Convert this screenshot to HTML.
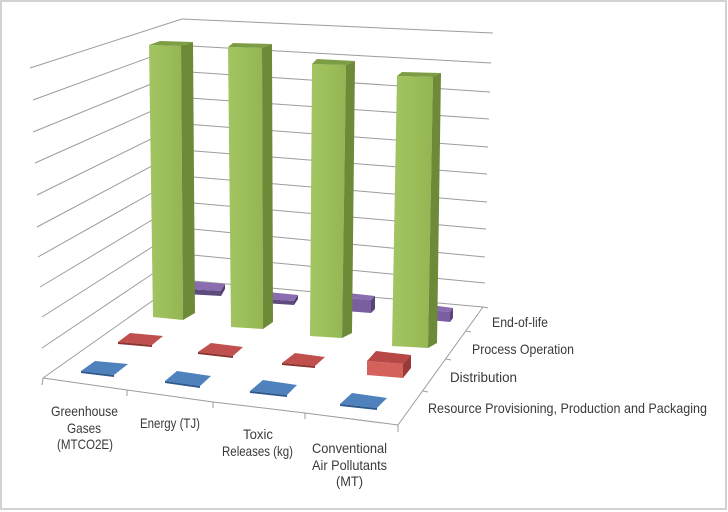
<!DOCTYPE html>
<html><head><meta charset="utf-8"><style>
html,body{margin:0;padding:0;background:#fff;}
svg{display:block;}
text{font-family:"Liberation Sans",Arial,sans-serif;font-size:14px;fill:#3a3a3a;}
</style></head><body>
<svg width="728" height="512" viewBox="0 0 728 512" xmlns="http://www.w3.org/2000/svg">
<defs>
<linearGradient id="gf" x1="0" x2="1" y1="0" y2="0">
<stop offset="0" stop-color="#a2c462"/><stop offset="0.5" stop-color="#9cbf5a"/><stop offset="1" stop-color="#93b552"/>
</linearGradient>
</defs>
<rect x="0" y="0" width="728" height="512" fill="#fff"/>
<rect x="1" y="1" width="725" height="508" fill="none" stroke="#d2d2d2" stroke-width="2"/>
<g stroke="#9c9c9c" stroke-width="1" fill="none">
<line x1="30" y1="68" x2="182" y2="19"/>
<line x1="33" y1="100" x2="182" y2="45.5"/>
<line x1="33" y1="132" x2="182" y2="71.5"/>
<line x1="35" y1="163" x2="182" y2="97.5"/>
<line x1="37" y1="195" x2="182" y2="123.8"/>
<line x1="37" y1="227" x2="182" y2="150"/>
<line x1="38" y1="257" x2="182" y2="176"/>
<line x1="40" y1="287" x2="182" y2="202"/>
<line x1="42" y1="317" x2="182" y2="228"/>
<line x1="42" y1="348" x2="182" y2="254"/>
<line x1="43" y1="378" x2="182" y2="280"/>
<line x1="182" y1="19" x2="493" y2="33"/>
<line x1="182" y1="45.5" x2="491" y2="63"/>
<line x1="182" y1="71.5" x2="490" y2="92"/>
<line x1="182" y1="97.5" x2="489" y2="119"/>
<line x1="182" y1="123.8" x2="488" y2="147"/>
<line x1="182" y1="150" x2="487" y2="174"/>
<line x1="182" y1="176" x2="487" y2="202"/>
<line x1="182" y1="202" x2="486" y2="229"/>
<line x1="182" y1="228" x2="485" y2="257"/>
<line x1="182" y1="254" x2="485" y2="283"/>
<line x1="182" y1="280" x2="483" y2="307"/>
<polyline points="43,378 127,390 213,402 305,413 398,425"/>
<line x1="43" y1="378" x2="42" y2="385"/>
<line x1="127" y1="390" x2="127" y2="396"/>
<line x1="213" y1="402" x2="213" y2="408"/>
<line x1="305" y1="413" x2="305" y2="419"/>
<line x1="398" y1="425" x2="398" y2="432"/>
<line x1="398" y1="425" x2="483" y2="307"/>
<line x1="423" y1="391" x2="428" y2="392"/>
<line x1="446" y1="359" x2="451" y2="360"/>
<line x1="466" y1="331" x2="471" y2="332"/>
<line x1="483" y1="307" x2="488" y2="308"/>
</g>

<g>
<polygon points="188,281 225,284 221,291 186,289" fill="#8a6cb0"/>
<polygon points="186,289 221,291 221,296 186,294" fill="#5f4a7e"/>
<polygon points="221,291 225,284 225,289 221,296" fill="#4e3d68"/>

<polygon points="268,292 298,295 294,301 264,299" fill="#8a6cb0"/>
<polygon points="264,299 294,301 294,305 264,303" fill="#5f4a7e"/>
<polygon points="294,301 298,295 298,299 294,305" fill="#4e3d68"/>

<polygon points="348,293 375,296 371,300 345,298" fill="#8a6cb0"/>
<polygon points="345,298 371,300 371,313 345,311" fill="#7a5ea0"/>
<polygon points="371,300 375,296 375,309 371,313" fill="#5a4578"/>

<polygon points="431,305 453,308 450,312 429,310" fill="#8a6cb0"/>
<polygon points="429,310 450,312 450,322 429,320" fill="#7a5ea0"/>
<polygon points="450,312 453,308 453,318 450,322" fill="#5a4578"/>
</g>

<g>
<polygon points="149,45 181,46 183,320 153,317" fill="url(#gf)"/>
<polygon points="181,46 193,42 195,313 183,320" fill="#6c8a37"/>
<polygon points="149,45 160,41 193,42 181,46" fill="#7d9d44"/>

<polygon points="228,47 262,48 263,329 231,327" fill="url(#gf)"/>
<polygon points="262,48 272,44 273,322 263,329" fill="#6c8a37"/>
<polygon points="228,47 233,43 272,44 262,48" fill="#7d9d44"/>

<polygon points="312,64 346,65 342,338 310,336" fill="url(#gf)"/>
<polygon points="346,65 355,61 352,333 342,338" fill="#6c8a37"/>
<polygon points="312,64 317,59 355,61 346,65" fill="#7d9d44"/>

<polygon points="397,76 433,77 428,348 392,346" fill="url(#gf)"/>
<polygon points="433,77 441,73 437,343 428,348" fill="#6c8a37"/>
<polygon points="397,76 402,72 441,73 433,77" fill="#7d9d44"/>
</g>

<g>
<polygon points="130,333 163,336 152,345 118,342" fill="#c0504d"/>
<polygon points="118,342 152,345 152,347 118,344" fill="#8c3230"/>

<polygon points="211,343 243,347 233,356 198,352" fill="#c0504d"/>
<polygon points="198,352 233,356 233,358 198,354" fill="#8c3230"/>

<polygon points="295,353 325,357 315,366 282,363" fill="#c0504d"/>
<polygon points="282,363 315,366 315,368 282,365" fill="#8c3230"/>

<polygon points="376,351 411,355 403,364 367,361" fill="#b84845"/>
<polygon points="367,361 403,364 403,378 367,375" fill="#d4615c"/>
<polygon points="403,364 411,355 411,368 403,378" fill="#9a3a37"/>
</g>

<g>
<polygon points="95,361 128,364 114,375 81,371" fill="#4f81bd"/>
<polygon points="81,371 114,375 114,377 81,373" fill="#2d5a8e"/>

<polygon points="177,371 211,376 200,386 165,381" fill="#4f81bd"/>
<polygon points="165,381 200,386 200,388 165,383" fill="#2d5a8e"/>

<polygon points="263,380 297,385 287,395 250,391" fill="#4f81bd"/>
<polygon points="250,391 287,395 287,397 250,393" fill="#2d5a8e"/>

<polygon points="352,393 387,398 377,408 340,404" fill="#4f81bd"/>
<polygon points="340,404 377,408 377,410 340,406" fill="#2d5a8e"/>
</g>

<text x="51" y="416" textLength="67" lengthAdjust="spacingAndGlyphs">Greenhouse</text>
<text x="67" y="433" textLength="34" lengthAdjust="spacingAndGlyphs">Gases</text>
<text x="57" y="449" textLength="56" lengthAdjust="spacingAndGlyphs">(MTCO2E)</text>
<text x="140" y="428" textLength="60" lengthAdjust="spacingAndGlyphs">Energy (TJ)</text>
<text x="243" y="439" textLength="30" lengthAdjust="spacingAndGlyphs">Toxic</text>
<text x="222" y="456" textLength="71" lengthAdjust="spacingAndGlyphs">Releases (kg)</text>
<text x="312" y="453" textLength="75" lengthAdjust="spacingAndGlyphs">Conventional</text>
<text x="312" y="470" textLength="75" lengthAdjust="spacingAndGlyphs">Air Pollutants</text>
<text x="336" y="486" textLength="27" lengthAdjust="spacingAndGlyphs">(MT)</text>

<text x="492" y="327" textLength="56" lengthAdjust="spacingAndGlyphs">End-of-life</text>
<text x="472" y="354" textLength="102" lengthAdjust="spacingAndGlyphs">Process Operation</text>
<text x="450" y="382" textLength="67" lengthAdjust="spacingAndGlyphs">Distribution</text>
<text x="428" y="413" textLength="279" lengthAdjust="spacingAndGlyphs">Resource Provisioning, Production and Packaging</text>
</svg>
</body></html>
